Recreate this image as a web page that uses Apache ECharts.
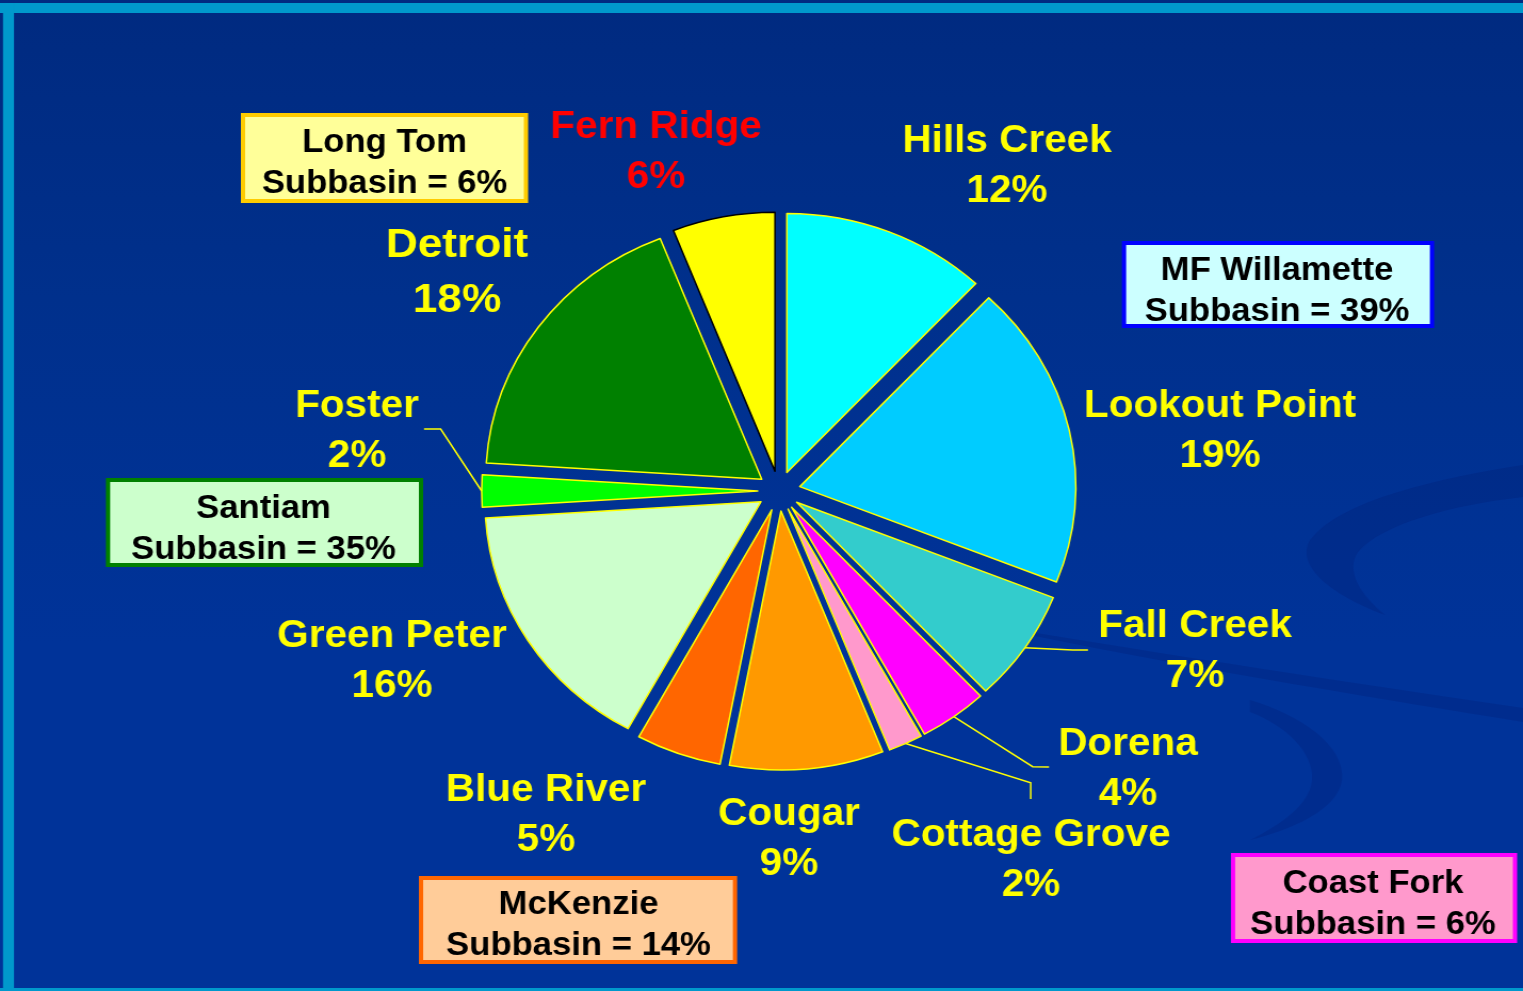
<!DOCTYPE html>
<html>
<head>
<meta charset="utf-8">
<title>Willamette reservoirs</title>
<script src="https://cdn.jsdelivr.net/npm/echarts@6/dist/echarts.min.js"></script>
<style>
  html, body { margin: 0; padding: 0; width: 1523px; height: 991px; overflow: hidden;
    background: linear-gradient(to bottom, #002A80 0%, #00308C 30%, #003399 65%, #003399 100%); }
  /* the slide is wider than it is tall: the drawing is stretched a little horizontally */
  #chart { width: 1429px; height: 991px; transform: scaleX(1.06578); transform-origin: 0 0; }
</style>
</head>
<body>
<div id="chart"></div>
<script>
// Share of storage by reservoir (percent), clockwise from 12 o'clock
const reservoirs = ['Hills Creek', 'Lookout Point', 'Fall Creek', 'Dorena', 'Cottage Grove',
  'Cougar', 'Blue River', 'Green Peter', 'Foster', 'Detroit', 'Fern Ridge'];
const shares = [12, 19, 7, 4, 2, 9, 5, 16, 2, 18, 6];
const sliceColors = ['#00FFFF', '#00CCFF', '#33CCCC', '#FF00FF', '#FF99CC',
  '#FF9900', '#FF6600', '#CCFFCC', '#00FF00', '#008000', '#FFFF00'];

// Subbasin totals shown in the boxes
const subbasins = ['Long Tom', 'MF Willamette', 'Santiam', 'McKenzie', 'Coast Fork'];
const subbasinShares = [6, 39, 35, 14, 6];

// ---- layout (page pixels) ----
const SX = 1523 / 1429;          // horizontal stretch of the drawing
const px = v => v / SX;          // page x -> chart x
const CX = px(779), CY = 491, R = 259, OFFSET = 20;
const FONT_FAMILY = '"Liberation Sans", Arial, sans-serif';
const BOX_FONT = 'bold 32.5px ' + FONT_FAMILY;

const labelAt = {
  'Hills Creek': [1007, 164], 'Lookout Point': [1220, 429], 'Fall Creek': [1195, 649],
  'Dorena': [1128, 767], 'Cottage Grove': [1031, 858], 'Cougar': [789, 837],
  'Blue River': [546, 813], 'Green Peter': [392, 659], 'Foster': [357, 429],
  'Detroit': [457, 270], 'Fern Ridge': [656, 150]
};
const leaders = {
  'Foster': [[440.7, 429], [424, 429]],
  'Fall Creek': [[1072.7, 650], [1088, 650]],
  'Dorena': [[1032.7, 766.7], [1049, 767]],
  'Cottage Grove': [[1030.7, 782.7], [1030.7, 799]]
};
const boxStyle = {
  'Long Tom':      { rect: [241, 113, 287, 90], stroke: '#FFCC00', fill: '#FFFF99', at: [384.5, 164] },
  'MF Willamette': { rect: [1122, 241, 312, 87], stroke: '#0000FF', fill: '#CCFFFF', at: [1277, 292] },
  'Santiam':       { rect: [106, 478, 317, 89], stroke: '#008000', fill: '#CCFFCC', at: [263.5, 530] },
  'McKenzie':      { rect: [419, 876, 318, 88], stroke: '#FF6600', fill: '#FFCC99', at: [578.5, 926] },
  'Coast Fork':    { rect: [1231, 853, 286, 90], stroke: '#FF00FF', fill: '#FF99CC', at: [1373, 904.5] }
};

const total = shares.reduce((a, b) => a + b, 0);
// point on the outer arc of an exploded slice, at its middle angle
function edgePoint(i) {
  let before = 0;
  for (let k = 0; k < i; k++) before += shares[k];
  const a = (before + shares[i] / 2) / total * Math.PI * 2;
  const d = R + OFFSET;
  return [CX + d * Math.sin(a), CY - d * Math.cos(a)];
}

// outline of a closed shape made of cubic curves: start point, then [c1, c2, end] triples
function curveOutline(start, segs) {
  const pts = [[px(start[0]), start[1]]];
  let p0 = start;
  segs.forEach(s => {
    const [c1, c2, p3] = s;
    for (let t = 1; t <= 16; t++) {
      const u = t / 16, v = 1 - u;
      const x = v * v * v * p0[0] + 3 * v * v * u * c1[0] + 3 * v * u * u * c2[0] + u * u * u * p3[0];
      const y = v * v * v * p0[1] + 3 * v * v * u * c1[1] + 3 * v * u * u * c2[1] + u * u * u * p3[1];
      pts.push([px(x), y]);
    }
    p0 = p3;
  });
  return pts;
}

const pieData = reservoirs.map((name, i) => ({
  name: name,
  value: shares[i],
  selected: true,
  itemStyle: { color: sliceColors[i], borderColor: name === 'Fern Ridge' ? '#000000' : '#FFFF00' }
}));

// background swooshes, slide frame, slice labels and subbasin boxes
const graphics = [];
const swoosh = 'rgba(0,18,95,0.18)';
[
  curveOutline([1523, 465], [
    [[1440, 478], [1340, 500], [1310, 540]],
    [[1295, 565], [1330, 595], [1385, 615]],
    [[1360, 595], [1345, 570], [1358, 552]],
    [[1380, 525], [1450, 505], [1523, 497]]
  ]),
  curveOutline([1030, 632], [
    [[1200, 660], [1400, 690], [1523, 708]],
    [[1523, 713], [1523, 719], [1523, 722]],
    [[1400, 702], [1200, 670], [1030, 635]]
  ]),
  curveOutline([1250, 700], [
    [[1300, 715], [1345, 745], [1342, 780]],
    [[1338, 810], [1290, 830], [1250, 840]],
    [[1280, 825], [1310, 805], [1312, 780]],
    [[1314, 752], [1285, 725], [1250, 712]]
  ])
].forEach(pts => graphics.push({
  type: 'polygon', silent: true, z: -10,
  shape: { points: pts }, style: { fill: swoosh }
}));

graphics.push(
  { type: 'rect', silent: true, z: -5, shape: { x: 0, y: 3, width: px(1523), height: 10 }, style: { fill: '#0099CC' } },
  { type: 'rect', silent: true, z: -5, shape: { x: px(3), y: 3, width: px(11), height: 988 }, style: { fill: '#0099CC' } },
  { type: 'rect', silent: true, z: -5, shape: { x: 0, y: 988, width: px(1523), height: 3 }, style: { fill: '#0099CC' } }
);

// slice labels: name and share, with leader lines for the thin slices
reservoirs.forEach((name, i) => {
  const pos = labelAt[name];
  const big = name === 'Detroit';
  graphics.push({
    type: 'text', silent: true, z: 5,
    x: px(pos[0]), y: pos[1] + 3,
    style: {
      text: name + '\n' + shares[i] + '%',
      font: 'bold ' + (big ? 41.5 : 38) + 'px ' + FONT_FAMILY,
      fill: name === 'Fern Ridge' ? '#FF0000' : '#FFFF00',
      align: 'center', verticalAlign: 'middle',
      lineHeight: big ? 55 : 50
    }
  });
  const lead = leaders[name];
  if (lead) {
    graphics.push({
      type: 'polyline', silent: true, z: 5,
      shape: { points: [edgePoint(i), [px(lead[0][0]), lead[0][1]], [px(lead[1][0]), lead[1][1]]] },
      style: { stroke: '#FFFF00', lineWidth: 1.5, fill: null }
    });
  }
});

subbasins.forEach((name, i) => {
  const b = boxStyle[name];
  const [x, y, w, h] = b.rect;
  graphics.push({
    type: 'rect', silent: true,
    shape: { x: px(x + 2), y: y + 2, width: px(w - 4), height: h - 4 },
    style: { fill: b.fill, stroke: b.stroke, lineWidth: 4 }
  });
  graphics.push({
    type: 'text', silent: true,
    x: px(b.at[0]), y: b.at[1],
    style: {
      text: name + '\nSubbasin = ' + subbasinShares[i] + '%',
      font: BOX_FONT,
      fill: '#000000', align: 'center', verticalAlign: 'middle', lineHeight: 41
    }
  });
});

const chart = echarts.init(document.getElementById('chart'), null, { renderer: 'canvas' });
chart.setOption({
  animation: false,
  backgroundColor: 'transparent',
  graphic: graphics,
  series: [{
    type: 'pie',
    center: [CX, CY],
    radius: R,
    startAngle: 90,
    clockwise: true,
    selectedMode: 'multiple',
    selectedOffset: OFFSET,
    avoidLabelOverlap: false,
    emphasis: { disabled: true },
    itemStyle: { borderWidth: 1.5 },
    label: { show: false },
    labelLine: { show: false },
    data: pieData
  }]
});
</script>
</body>
</html>
